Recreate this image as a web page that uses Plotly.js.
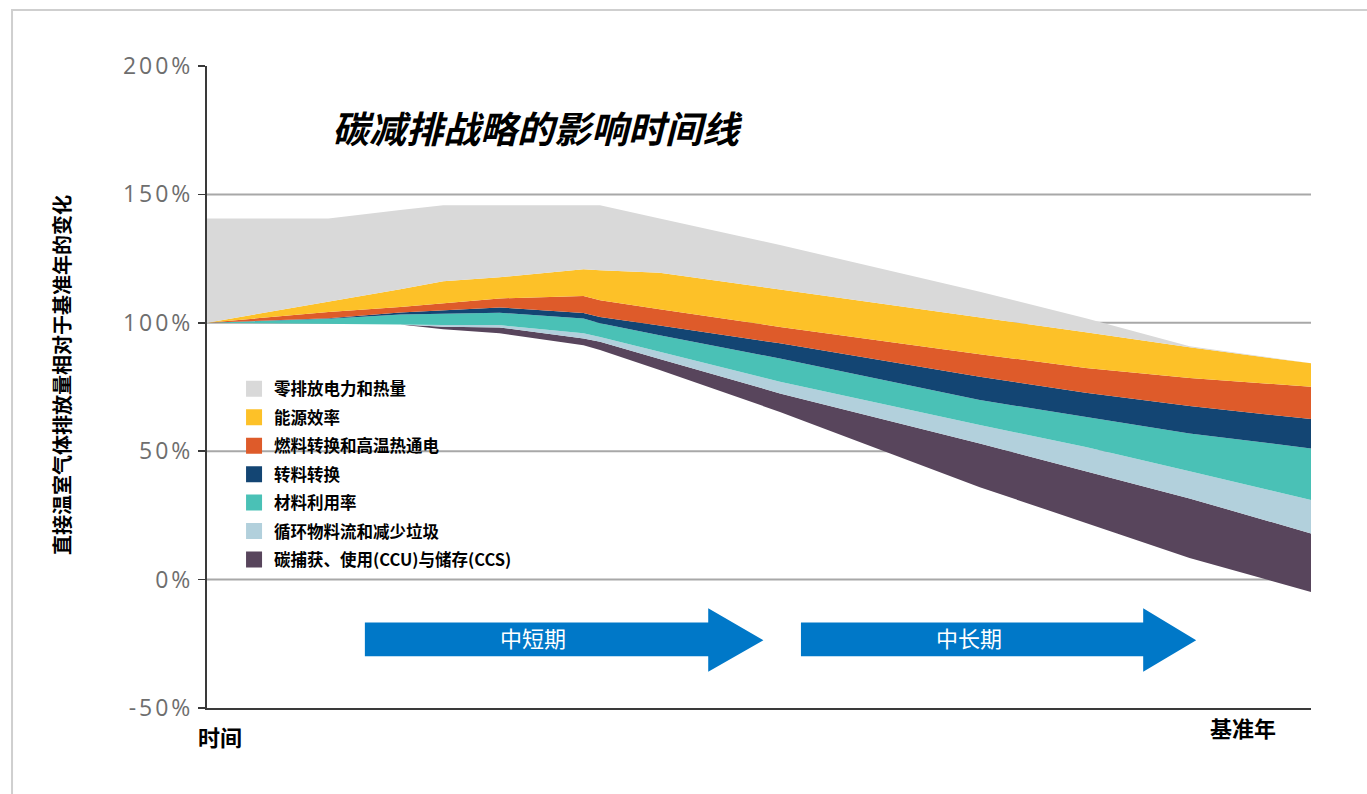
<!DOCTYPE html>
<html>
<head>
<meta charset="utf-8">
<script src="https://cdn.plot.ly/plotly-3.0.1.min.js"></script>
<style>
  html, body { margin: 0; padding: 0; background: #ffffff; }
  #chart { width: 1367px; height: 794px; }
  .ytick text { letter-spacing: 3px; }
</style>
</head>
<body>
<div id="chart"></div>
<script>
// ---- Data (time axis runs from 0 = start to 100 = base year) ----
const timePoints    = [0, 11, 17.5, 21.4, 26.5, 34.1, 35.6, 41, 51.9, 70, 79.6, 89, 100];
// upper boundary of each band, % of base-year emissions
const residualLine  = [100, 99.7, 99.3, 97.5, 95.9, 91.3, 89.4, 81.6, 65.3, 36.0, 22.0, 8.4, -4.8];
const ccsTop        = [100, 99.7, 99.3, 98.5, 98.2, 93.9, 92.6, 85.9, 72.5, 53.0, 42.3, 31.6, 18.0];
const circularTop   = [100, 99.7, 99.3, 99.1, 99.1, 95.9, 94.5, 88.7, 77.0, 60.2, 51.6, 42.2, 31.0];
const materialTop   = [100, 101.6, 103.2, 103.6, 103.9, 101.7, 99.8, 95.2, 86.1, 69.9, 63.3, 56.9, 51.1];
const feedstockTop  = [100, 101.8, 104.0, 104.9, 106.0, 103.8, 102.3, 98.9, 92.0, 79.0, 72.8, 67.6, 62.5];
const fuelTop       = [100, 104.2, 106.2, 107.7, 109.5, 110.4, 108.8, 105.3, 98.4, 87.8, 82.4, 78.5, 75.1];
const efficiencyTop = [100, 108.1, 113.1, 116.2, 117.7, 120.9, 120.5, 119.5, 113.0, 102.3, 96.3, 90.5, 84.2];
const powerTop      = [140.6, 140.6, 143.9, 145.8, 145.8, 145.8, 145.8, 140.6, 130.3, 112.1, 101.8, 90.9, 84.2];

const strategyNames = ['零排放电力和热量', '能源效率', '燃料转换和高温热通电', '转料转换',
                       '材料利用率', '循环物料流和减少垃圾', '碳捕获、使用(CCU)与储存(CCS)'];
const strategyColors = ['#D9D9D9', '#FDC128', '#DE5B2A', '#134573', '#4AC1B6', '#B2D0DC', '#58455C'];
const strategyTops = [powerTop, efficiencyTop, fuelTop, feedstockTop, materialTop, circularTop, ccsTop];

const yTickValues = [-50, 0, 50, 100, 150, 200];
const gridValues = [0, 50, 100, 150];

const phaseLabels = ['中短期', '中长期'];
const phaseStart  = [14.3, 53.8];
const phaseHead   = [45.4, 84.8];
const phaseTip    = [50.4, 89.6];

const chartTitle = '碳减排战略的影响时间线';
const yTitle = '直接温室气体排放量相对于基准年的变化';
const xStartLabel = '时间';
const xEndLabel = '基准年';

// ---- Traces ----
const CJK = '"Noto Sans CJK SC", "Noto Sans", sans-serif';
const traces = [];
// legend entries (squares)
strategyNames.forEach((name, i) => {
  traces.push({
    x: [null], y: [null], type: 'scatter', mode: 'markers', name: name,
    legendgroup: 'g' + i,
    marker: { symbol: 'square', size: 17, color: strategyColors[i] },
    hoverinfo: 'skip'
  });
});
// base line (bottom of the stack)
traces.push({
  x: timePoints, y: residualLine, type: 'scatter', mode: 'lines',
  line: { width: 0, color: 'rgba(0,0,0,0)' }, fill: 'none', showlegend: false, hoverinfo: 'skip'
});
// bands, from the bottom one upward
for (let i = strategyTops.length - 1; i >= 0; i--) {
  traces.push({
    x: timePoints, y: strategyTops[i], type: 'scatter', mode: 'lines',
    line: { width: 0, color: strategyColors[i] },
    fill: 'tonexty', fillcolor: strategyColors[i],
    showlegend: false, name: strategyNames[i]
  });
}

// ---- Shapes ----
const shapes = [];
gridValues.forEach(v => shapes.push({
  type: 'line', xref: 'paper', yref: 'y', x0: 0, x1: 1, y0: v, y1: v,
  line: { color: '#A8A8A8', width: 2 }, layer: 'below'
}));
const bodyTop = -16.7, bodyBottom = -29.8, headTop = -11.2, headBottom = -35.9, tipY = -23.6;
phaseLabels.forEach((lab, i) => {
  const p = `M${phaseStart[i]},${bodyTop} L${phaseHead[i]},${bodyTop} L${phaseHead[i]},${headTop} ` +
            `L${phaseTip[i]},${tipY} L${phaseHead[i]},${headBottom} L${phaseHead[i]},${bodyBottom} ` +
            `L${phaseStart[i]},${bodyBottom} Z`;
  shapes.push({ type: 'path', xref: 'x', yref: 'y', path: p, fillcolor: '#0078C8', line: { width: 0 }, layer: 'above' });
});
// outer frame (top and left edges)
shapes.push({
  type: 'path', xref: 'paper', yref: 'paper',
  path: 'M 2,1.0872 L -0.1766,1.0872 L -0.1766,-0.2',
  line: { color: '#CFCFCF', width: 2 }
});

// ---- Annotations ----
const annotations = [
  { text: chartTitle, xref: 'paper', yref: 'paper', x: 0.2998, y: 0.905, xanchor: 'center', yanchor: 'middle',
    showarrow: false, font: { family: CJK, size: 37, color: '#000', weight: 'bold', style: 'italic' } },
  { text: yTitle, xref: 'paper', yref: 'paper', x: -0.1313, y: 0.5187, xanchor: 'center', yanchor: 'middle',
    showarrow: false, textangle: -90, font: { family: CJK, size: 20, color: '#000', weight: 'bold' } },
  { text: xStartLabel, xref: 'paper', yref: 'paper', x: 0.0118, y: -0.0436, xanchor: 'center', yanchor: 'middle',
    showarrow: false, font: { family: CJK, size: 22, color: '#000', weight: 'bold' } },
  { text: xEndLabel, xref: 'paper', yref: 'paper', x: 0.9384, y: -0.0296, xanchor: 'center', yanchor: 'middle',
    showarrow: false, font: { family: CJK, size: 22, color: '#000', weight: 'bold' } }
];
phaseLabels.forEach((lab, i) => annotations.push({
  text: lab, xref: 'x', yref: 'y', x: (phaseStart[i] + phaseHead[i]) / 2 - 0.3, y: (bodyTop + bodyBottom) / 2 + 0.9,
  xanchor: 'center', yanchor: 'middle',
  showarrow: false, font: { family: CJK, size: 22, color: '#FFFFFF' }
}));

const layout = {
  width: 1367, height: 794,
  margin: { l: 207, r: 56, t: 66, b: 86 },
  paper_bgcolor: '#FFFFFF', plot_bgcolor: 'rgba(0,0,0,0)',
  showlegend: true,
  legend: {
    x: 0.0245, y: 0.524, xanchor: 'left', yanchor: 'top',
    bgcolor: 'rgba(0,0,0,0)', traceorder: 'grouped', tracegroupgap: 4,
    font: { family: CJK, size: 16.5, color: '#000', weight: 'bold' }
  },
  xaxis: {
    range: [0, 100], showgrid: false, zeroline: false, showticklabels: false, ticks: '',
    showline: true, linecolor: '#3A3A3A', linewidth: 2, fixedrange: true
  },
  yaxis: {
    range: [-50, 200], tickvals: yTickValues, ticktext: yTickValues.map(v => v + '%'),
    showgrid: false, zeroline: false, showline: true, linecolor: '#3A3A3A', linewidth: 2,
    ticks: 'outside', ticklen: 7, tickwidth: 1.5, tickcolor: '#3A3A3A',
    tickfont: { family: '"Open Sans", sans-serif', size: 23, color: '#6E6E6E' },
    layer: 'below traces', fixedrange: true
  },
  shapes: shapes,
  annotations: annotations
};

Plotly.newPlot('chart', traces, layout, { displayModeBar: false, staticPlot: true });
</script>
</body>
</html>
